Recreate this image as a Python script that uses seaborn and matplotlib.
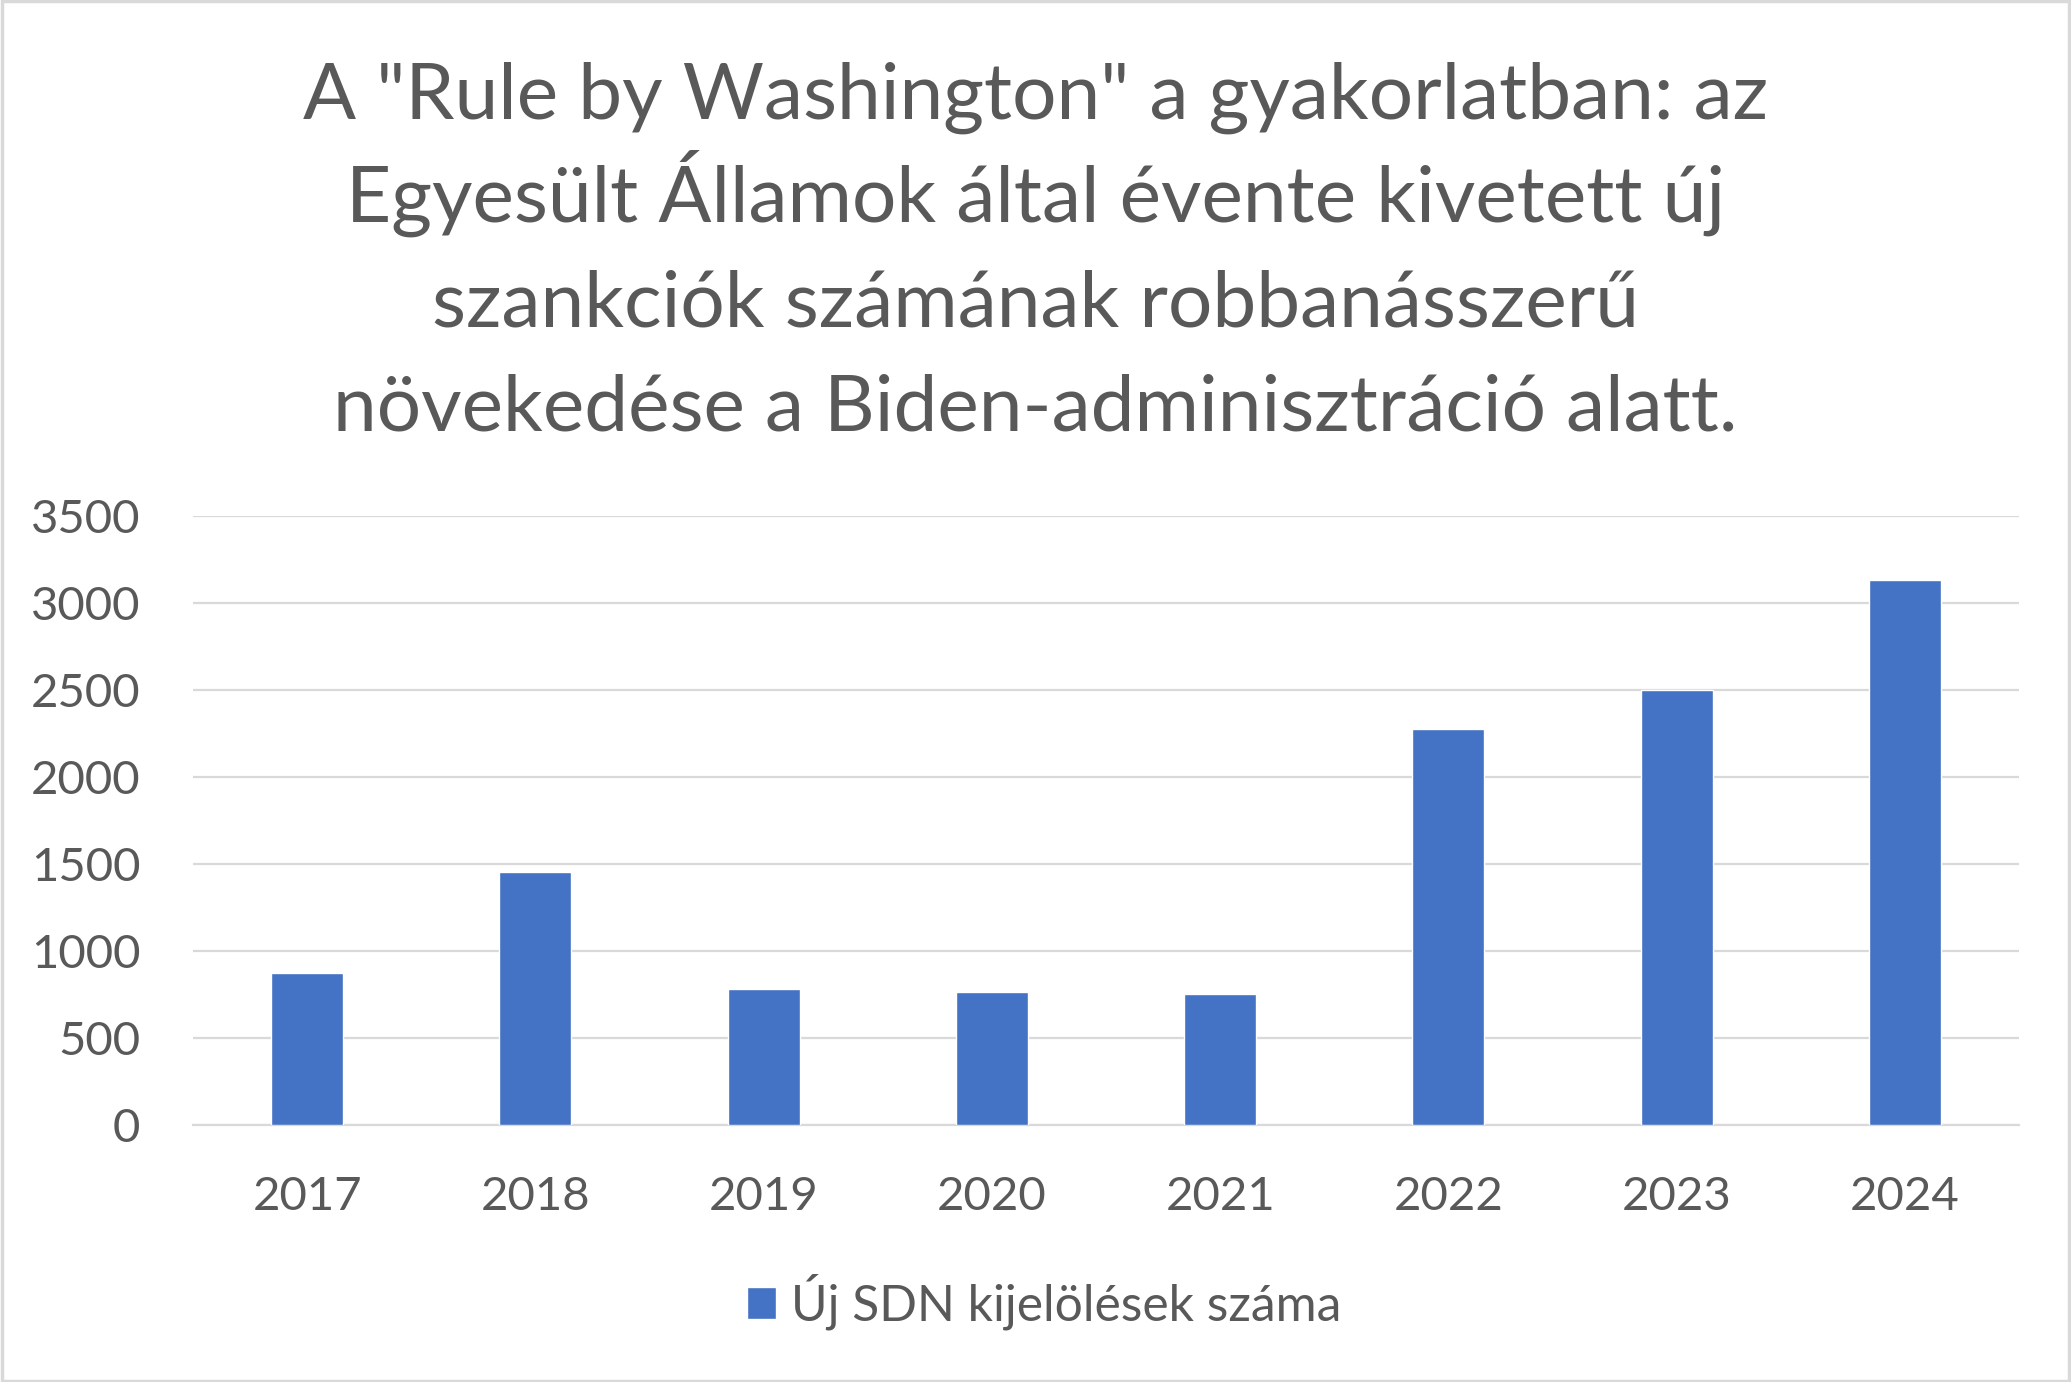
import numpy as np
import pandas as pd
import matplotlib
matplotlib.use("Agg")
import matplotlib.pyplot as plt
import seaborn as sns
from matplotlib.patches import Rectangle

years = ["2017", "2018", "2019", "2020", "2021", "2022", "2023", "2024"]
new_sdn = [873, 1452, 778, 765, 752, 2272, 2496, 3131]
series_name = "Új SDN kijelölések száma"
title_lines = ['A "Rule by Washington" a gyakorlatban: az',
               'Egyesült Államok által évente kivetett új',
               'szankciók számának robbanásszerű',
               'növekedése a Biden-adminisztráció alatt.']
y_ticks = [0, 500, 1000, 1500, 2000, 2500, 3000, 3500]

df = pd.DataFrame({"year": years, "count": new_sdn})

sns.set_theme(style="white")
plt.rcParams["font.family"] = ["Lato", "DejaVu Sans"]
text_color = "#595959"
grid_color = "#D9D9D9"
bar_color = "#4472C4"

fig = plt.figure(figsize=(20.71, 13.82), dpi=100)
ax = fig.add_axes([0.0932, 0.1862, 0.8817, 0.4407])

sns.barplot(data=df, x="year", y="count", color=bar_color, width=0.315,
            saturation=1, ax=ax, label=series_name, zorder=3)

ax.set_ylim(0, 3500)
ax.set_xlim(-0.5, len(years) - 0.5)
ax.set_yticks(y_ticks)
ax.set_yticklabels([str(t) for t in y_ticks])
ax.yaxis.grid(True, color=grid_color, linewidth=1.6, zorder=0)
ax.set_axisbelow(True)
for s in ["left", "right", "top"]:
    ax.spines[s].set_visible(False)
ax.spines["bottom"].set_color(grid_color)
ax.spines["bottom"].set_linewidth(1.6)
ax.tick_params(axis="both", length=0, labelsize=34, labelcolor=text_color)
ax.tick_params(axis="y", pad=38)
ax.tick_params(axis="x", pad=37)
ax.set_xlabel("")
ax.set_ylabel("")

# title, one line at a time so the spacing stays even
title_y = [0.9139, 0.8394, 0.7640, 0.6884]
for line, y in zip(title_lines, title_y):
    fig.text(0.5, y, line, ha="center", va="baseline", fontsize=56.5,
             color=text_color)

leg = ax.legend(loc="center", bbox_to_anchor=(0.5042, 0.058),
                bbox_transform=fig.transFigure, frameon=False,
                fontsize=35.8, handlelength=0.6, handleheight=0.6,
                handletextpad=0.3)
for t in leg.get_texts():
    t.set_color(text_color)

fig.patches.append(Rectangle((0.001, 0.001), 0.998, 0.998,
                             transform=fig.transFigure, fill=False,
                             edgecolor=grid_color, linewidth=2.5))

fig.savefig("out.png", dpi=100)
